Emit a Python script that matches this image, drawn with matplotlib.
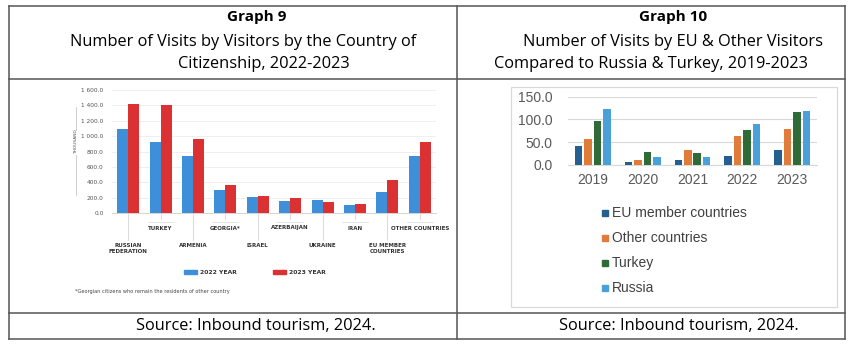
import matplotlib
matplotlib.use("Agg")
import matplotlib.pyplot as plt
from matplotlib.lines import Line2D
from matplotlib.patches import Rectangle
import numpy as np

# ---------------- data ----------------
g9_categories = ["RUSSIAN\nFEDERATION", "TURKEY", "ARMENIA", "GEORGIA*", "ISRAEL",
                 "AZERBAIJAN", "UKRAINE", "IRAN", "EU MEMBER\nCOUNTRIES", "OTHER COUNTRIES"]
g9_2022 = [1090, 930, 740, 294, 208, 151, 169, 99, 272, 744]
g9_2023 = [1418, 1401, 964, 363, 216, 199, 143, 121, 424, 921]
g9_yticks = [0, 200, 400, 600, 800, 1000, 1200, 1400, 1600]
g9_yticklabels = ["0.0", "200.0", "400.0", "600.0", "800.0", "1 000.0", "1 200.0", "1 400.0", "1 600.0"]
g9_series = ["2022 YEAR", "2023 YEAR"]

g10_years = ["2019", "2020", "2021", "2022", "2023"]
g10_eu = [40.8, 6.5, 11, 20, 33.5]
g10_other = [56.8, 10, 32, 64, 78.7]
g10_turkey = [96, 28, 26, 76.5, 116.5]
g10_russia = [122, 17, 18, 90, 118.7]
g10_series = ["EU member countries", "Other countries", "Turkey", "Russia"]
g10_yticks = [0, 50, 100, 150]

W, H = 852, 345
fig = plt.figure(figsize=(W / 100, H / 100), dpi=100)
fig.patch.set_facecolor("white")

def rect(x0, y0, x1, y1):
    return [x0 / W, 1 - y1 / H, (x1 - x0) / W, (y1 - y0) / H]

def fx(x):
    return x / W

def fy(y):
    return 1 - y / H

HEAD = ["Open Sans", "DejaVu Sans"]
ARIAL = ["Liberation Sans", "DejaVu Sans"]

# ---------------- table frame ----------------
lc = "#555555"
for (x0, y0, x1, y1) in [(9, 6, 845, 6), (9, 339, 845, 339), (9, 6, 9, 339), (845, 6, 845, 339),
                         (457, 6, 457, 339), (9, 79, 845, 79), (9, 313, 845, 313)]:
    fig.add_artist(Line2D([fx(x0), fx(x1)], [fy(y0), fy(y1)], color=lc, lw=1.1))

# headers
HS = 11.8
fig.text(fx(257), fy(17), "Graph 9", ha="center", va="center", fontsize=11,
         fontweight="bold", family=HEAD)
fig.text(fx(243), fy(42), "Number of Visits by Visitors by the Country of", ha="center",
         va="center", fontsize=HS, family=HEAD)
fig.text(fx(264), fy(64), "Citizenship, 2022-2023", ha="center", va="center",
         fontsize=HS, family=HEAD)
fig.text(fx(673), fy(17), "Graph 10", ha="center", va="center", fontsize=11,
         fontweight="bold", family=HEAD)
fig.text(fx(673), fy(42), "Number of Visits by EU & Other Visitors", ha="center",
         va="center", fontsize=HS, family=HEAD)
fig.text(fx(651), fy(64), "Compared to Russia & Turkey, 2019-2023", ha="center",
         va="center", fontsize=HS, family=HEAD)
fig.text(fx(256), fy(326), "Source: Inbound tourism, 2024.", ha="center", va="center",
         fontsize=HS, family=HEAD)
fig.text(fx(679), fy(326), "Source: Inbound tourism, 2024.", ha="center", va="center",
         fontsize=HS, family=HEAD)

# ---------------- Graph 9 ----------------
BLUE9 = "#3d8fd9"
RED9 = "#dc3132"
ax1 = fig.add_axes(rect(112, 90, 436, 213))
x = np.arange(len(g9_categories))
bw = 0.34
ax1.bar(x - bw / 2, g9_2022, bw, color=BLUE9, zorder=3)
ax1.bar(x + bw / 2, g9_2023, bw, color=RED9, zorder=3)
ax1.set_xlim(-0.5, len(g9_categories) - 0.5)
ax1.set_ylim(0, 1600)
ax1.set_yticks(g9_yticks)
ax1.set_yticklabels(g9_yticklabels, fontsize=4.2, color="#555555")
ax1.tick_params(axis="y", length=0, pad=6)
ax1.yaxis.grid(True, color="#ececec", lw=0.6, zorder=0)
ax1.set_xticks([])
for s in ["top", "right", "left"]:
    ax1.spines[s].set_visible(False)
ax1.spines["bottom"].set_color("#cccccc")
ax1.spines["bottom"].set_linewidth(0.6)

# category labels, alternating levels
ax_b = ax1.get_position()
for i, lab in enumerate(g9_categories):
    cx = ax_b.x0 + (i + 0.5) / len(g9_categories) * ax_b.width
    if i % 2 == 0:
        fig.add_artist(Line2D([cx, cx], [fy(213), fy(240)], color="#d5d5d5", lw=0.6))
        fig.text(cx, fy(243), lab, ha="center", va="top", fontsize=4.0, color="#333333",
                 fontweight="bold", linespacing=1.3)
    else:
        fig.add_artist(Line2D([cx, cx], [fy(213), fy(219)], color="#d5d5d5", lw=0.6))
        fig.add_artist(Line2D([cx - fx(13), cx + fx(13)], [fy(222), fy(222)],
                              color="#e0e0e0", lw=0.6))
        fig.text(cx, fy(228), lab, ha="center", va="center", fontsize=4.0,
                 color="#333333", fontweight="bold")

# y label
fig.text(fx(76), fy(142), "THOUSAND", rotation=90, ha="center", va="center",
         fontsize=3.2, color="#555555")
fig.add_artist(Line2D([fx(76), fx(76)], [fy(107), fy(130)], color="#bbbbbb", lw=0.5))
fig.add_artist(Line2D([fx(76), fx(76)], [fy(155), fy(195)], color="#bbbbbb", lw=0.5))

# legend
for (px, col, lab) in [(184, BLUE9, g9_series[0]), (273, RED9, g9_series[1])]:
    fig.add_artist(Rectangle((fx(px), fy(274)), fx(13), 4 / H, color=col))
    fig.text(fx(px + 16), fy(272), lab, ha="left", va="center", fontsize=4.4,
             color="#333333", fontweight="bold")

fig.text(fx(75), fy(292), "*Georgian citizens who remain the residents of other country",
         ha="left", va="center", fontsize=3.6, color="#444444")

# ---------------- Graph 10 ----------------
fig.add_artist(Rectangle((fx(511), fy(307)), fx(837 - 511), (307 - 87) / H,
                         fill=False, edgecolor="#d9d9d9", lw=0.9))
ax2 = fig.add_axes(rect(568, 96.7, 817, 165))
cols10 = ["#255e91", "#e07b39", "#2e6b37", "#4aa0d8"]
vals10 = [g10_eu, g10_other, g10_turkey, g10_russia]
xx = np.arange(len(g10_years))
step = 0.19
bw2 = 0.15
for k, (vals, col, lab) in enumerate(zip(vals10, cols10, g10_series)):
    ax2.bar(xx + (k - 1.5) * step, vals, bw2, color=col, label=lab, zorder=3)
ax2.set_xlim(-0.5, len(g10_years) - 0.5)
ax2.set_ylim(0, 150)
ax2.set_yticks(g10_yticks)
ax2.set_yticklabels([f"{v:.1f}" for v in g10_yticks], fontsize=10, color="#595959",
                    family=ARIAL)
ax2.set_xticks(xx)
ax2.set_xticklabels(g10_years, fontsize=10, color="#595959", family=ARIAL)
ax2.tick_params(axis="both", length=0)
ax2.tick_params(axis="y", pad=11)
ax2.tick_params(axis="x", pad=6)
ax2.yaxis.grid(True, color="#d9d9d9", lw=0.8, zorder=0)
for s in ["top", "right", "left"]:
    ax2.spines[s].set_visible(False)
ax2.spines["bottom"].set_color("#d9d9d9")

for k, (col, lab) in enumerate(zip(cols10, g10_series)):
    yy = 213 + k * 25
    fig.add_artist(Rectangle((fx(602), fy(yy + 3)), fx(6), 6 / H, color=col))
    fig.text(fx(612), fy(yy), lab, ha="left", va="center", fontsize=10,
             color="#404040", family=ARIAL)

fig.savefig("out.png", dpi=100)
